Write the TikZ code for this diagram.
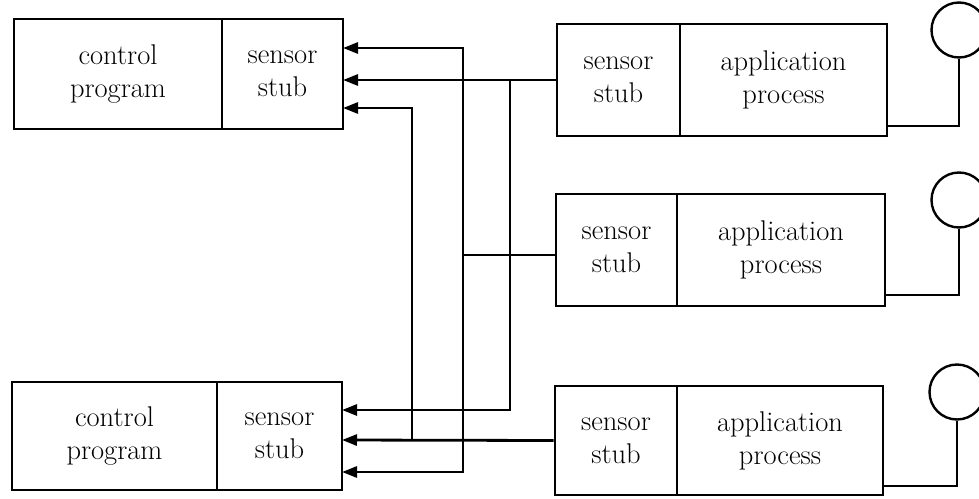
\documentclass[tikz,border=0pt]{standalone}
\usetikzlibrary{arrows.meta}
\begin{document}
\begin{tikzpicture}[x=1pt,y=-1pt,
  box/.style={draw,line width=2.8pt,rectangle,inner sep=0pt,align=center,
    font=\fontsize{28.5}{33}\selectfont},
  wire/.style={line width=2.8pt},
  arr/.style={line width=2.8pt,-{Triangle[length=15pt,width=11pt]}},
  lead/.style={line width=2.4pt},
  gauge/.style={draw,circle,line width=2.4pt,minimum size=55pt,inner sep=0pt}]
\useasboundingbox (0,0) rectangle (979,498);
% control programs
\node[box,minimum width=208pt,minimum height=110pt] (cp1) at (118,74) {control\\program};
\node[box,minimum width=121pt,minimum height=110pt] (ss1) at (282.5,74) {sensor\\stub};
\node[box,minimum width=205pt,minimum height=108pt] (cp2) at (114.5,436) {control\\program};
\node[box,minimum width=125pt,minimum height=108pt] (ss2) at (279.5,436) {sensor\\stub};
% application processes
\node[box,minimum width=123pt,minimum height=112pt] (as1) at (618.5,80) {sensor\\stub};
\node[box,minimum width=207pt,minimum height=112pt] (ap1) at (783.5,80) {application\\process};
\node[box,minimum width=121pt,minimum height=112pt] (as2) at (616.5,250) {sensor\\stub};
\node[box,minimum width=208pt,minimum height=112pt] (ap2) at (781,250) {application\\process};
\node[box,minimum width=122pt,minimum height=109pt] (as3) at (616,440.5) {sensor\\stub};
\node[box,minimum width=206pt,minimum height=109pt] (ap3) at (780,440.5) {application\\process};
% gauges
\node[gauge] (g1) at (959,30) {};
\node[gauge] (g2) at (959,200) {};
\node[gauge] (g3) at (957,392) {};
% named points
\coordinate (t1) at (343,48);
\coordinate (t2) at (343,80);
\coordinate (t3) at (343,108);
\coordinate (b1) at (342,410);
\coordinate (b2) at (342,440);
\coordinate (b3) at (342,472);
\coordinate (m1) at (556,255);
\coordinate (jA) at (412,440);
\coordinate (jB) at (463,255);
\coordinate (jC) at (510,80);
\coordinate (r1) at (887,126);
\coordinate (r2) at (885,295);
\coordinate (r3) at (883,486);
% connectors
\draw[arr] (as1.west) -- (t2);
\draw[arr] (jC) |- (b1);
\draw[wire] (m1) -- (jB);
\draw[arr] (jB) |- (t1);
\draw[arr] (jB) |- (b3);
\draw[arr] (as3.west) -- (b2);
\draw[arr] (jA) |- (t3);
% gauge leads
\draw[lead] (g1.south) |- (r1);
\draw[lead] (g2.south) |- (r2);
\draw[lead] (g3.south) |- (r3);
\end{tikzpicture}
\end{document}
